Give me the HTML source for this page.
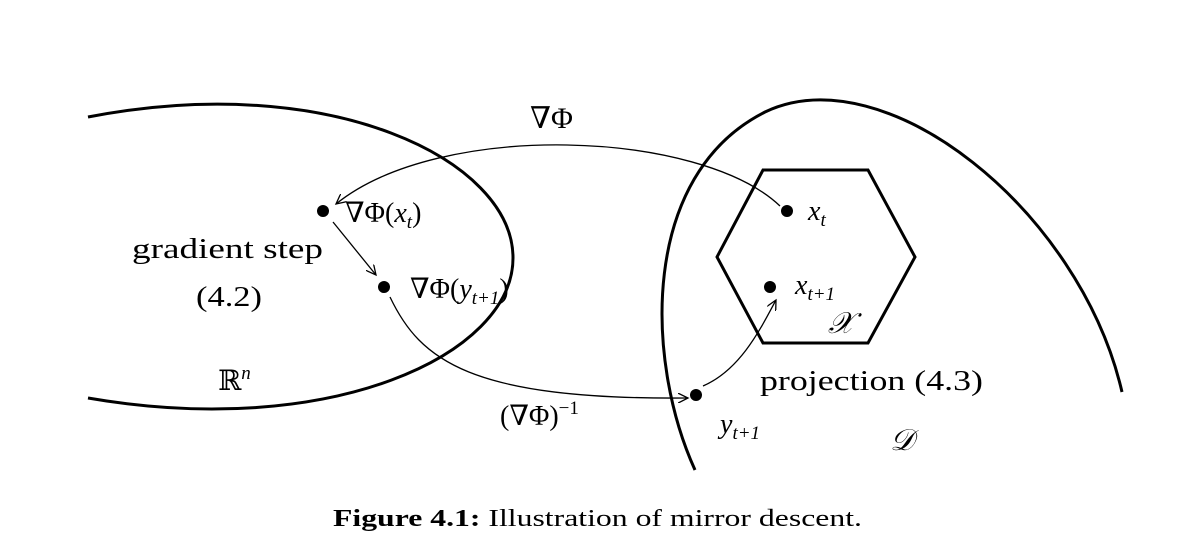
<!DOCTYPE html>
<html><head><meta charset="utf-8"><style>
html,body{margin:0;padding:0;background:#fff;}
svg{display:block;}
text{font-family:"Liberation Serif","DejaVu Serif",serif;fill:#000;}
</style></head><body>
<svg width="1180" height="552" viewBox="0 0 1180 552">
<defs>
<marker id="ah" markerWidth="12" markerHeight="10" refX="10" refY="5" orient="auto" markerUnits="userSpaceOnUse">
<path d="M0,0 L10,5 L0,10" fill="none" stroke="#000" stroke-width="1.3"/>
</marker>
</defs>
<path d="M88,117 C330,70 513,160 513,258 C513,355 330,440 88,398" fill="none" stroke="#000" stroke-width="3"/>
<path d="M695,470 C645,360 640,175 765,112 C885,55 1080,210 1122,392" fill="none" stroke="#000" stroke-width="3"/>
<polygon points="763,170 868,170 915,257 868,343 763,343 717,257" fill="none" stroke="#000" stroke-width="3"/>
<path d="M780,206 C700,130 440,120 336,204" fill="none" stroke="#000" stroke-width="1.3" marker-end="url(#ah)"/>
<path d="M333,222 L376,275" fill="none" stroke="#000" stroke-width="1.3" marker-end="url(#ah)"/>
<path d="M390,297 C420,360 470,400 688,398" fill="none" stroke="#000" stroke-width="1.3" marker-end="url(#ah)"/>
<path d="M703,386 C740,370 760,330 776,300" fill="none" stroke="#000" stroke-width="1.3" marker-end="url(#ah)"/>
<circle cx="323" cy="211" r="6"/>
<circle cx="384" cy="287" r="6"/>
<circle cx="787" cy="211" r="6"/>
<circle cx="770" cy="287" r="6"/>
<circle cx="696" cy="395" r="6"/>
<text x="530" y="128" font-size="30">∇Φ</text>
<text x="345" y="222" font-size="28">∇Φ(<tspan font-style="italic">x</tspan><tspan font-size="19" font-style="italic" dy="6">t</tspan><tspan dy="-6">)</tspan></text>
<text x="132" y="258" font-size="28" textLength="191" lengthAdjust="spacingAndGlyphs">gradient step</text>
<text x="196" y="306" font-size="28" textLength="66" lengthAdjust="spacingAndGlyphs">(4.2)</text>
<text x="410" y="298" font-size="28">∇Φ(<tspan font-style="italic">y</tspan><tspan font-size="19" font-style="italic" dy="6">t+1</tspan><tspan dy="-6">)</tspan></text>
<text x="218" y="390" font-size="28">ℝ<tspan font-size="19" font-style="italic" dy="-11">n</tspan></text>
<text x="500" y="425" font-size="28">(∇Φ)<tspan font-size="19" dy="-11">−1</tspan></text>
<text x="808" y="220" font-size="28" font-style="italic">x<tspan font-size="19" dy="6">t</tspan></text>
<text x="795" y="294" font-size="28" font-style="italic">x<tspan font-size="19" dy="6">t+1</tspan></text>
<text x="828" y="333" font-size="30" font-style="italic">𝒳</text>
<text x="760" y="390" font-size="28" textLength="223" lengthAdjust="spacingAndGlyphs">projection (4.3)</text>
<text x="720" y="433" font-size="28" font-style="italic">y<tspan font-size="19" dy="6">t+1</tspan></text>
<text x="890" y="450" font-size="30" font-style="italic">𝒟</text>
<text x="333" y="526" font-size="24" textLength="529" lengthAdjust="spacingAndGlyphs"><tspan font-weight="bold">Figure 4.1:</tspan> Illustration of mirror descent.</text>
</svg>
</body></html>
